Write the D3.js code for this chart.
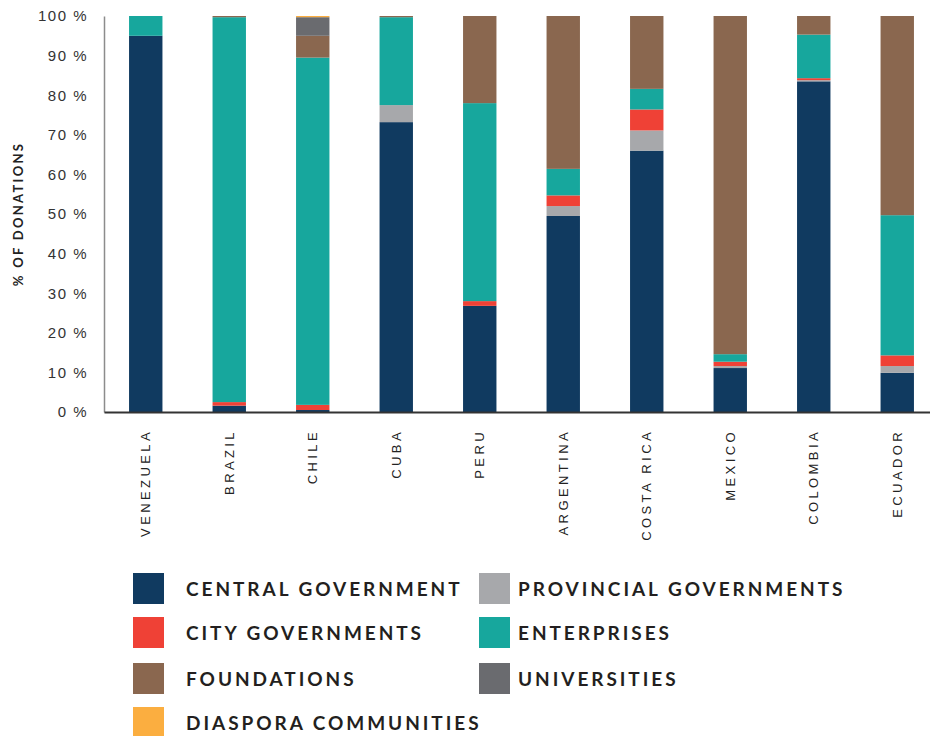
<!DOCTYPE html>
<html>
<head>
<meta charset="utf-8">
<script src="https://cdn.jsdelivr.net/npm/d3@7"></script>
<style>
  body { margin: 0; background: #fff; }
  svg { font-family: Lato, "Open Sans", sans-serif; }
</style>
</head>
<body>
<script>
// countries along the x axis
var countries = ['VENEZUELA', 'BRAZIL', 'CHILE', 'CUBA', 'PERU', 'ARGENTINA', 'COSTA RICA', 'MEXICO', 'COLOMBIA', 'ECUADOR'];

// donor types, bottom of the stack first
var donors = ['CENTRAL GOVERNMENT', 'PROVINCIAL GOVERNMENTS', 'CITY GOVERNMENTS', 'ENTERPRISES', 'FOUNDATIONS', 'UNIVERSITIES', 'DIASPORA COMMUNITIES'];
var donorColors = ['#103a60', '#a7a8ab', '#ef4136', '#17a79d', '#8a674f', '#6a6b6f', '#fbae40'];

// % of donations per donor type, one value per country
var central      = [95.0,  1.6,  0.5, 73.2, 26.8, 49.5, 66.0, 11.1, 83.5,  9.9];
var provincial   = [ 0.0,  0.0,  0.0,  4.3,  0.0,  2.5,  5.1,  0.5,  0.3,  1.7];
var city         = [ 0.0,  0.9,  1.3,  0.0,  1.2,  2.7,  5.3,  1.1,  0.5,  2.7];
var enterprises  = [ 5.0, 97.2, 87.7, 22.2, 50.0,  6.7,  5.2,  1.9, 11.0, 35.4];
var foundations  = [ 0.0,  0.3,  5.5,  0.3, 22.0, 38.6, 18.4, 85.4,  4.7, 50.3];
var universities = [ 0.0,  0.0,  4.7,  0.0,  0.0,  0.0,  0.0,  0.0,  0.0,  0.0];
var diaspora     = [ 0.0,  0.0,  0.3,  0.0,  0.0,  0.0,  0.0,  0.0,  0.0,  0.0];

// y tick values
var yTicks = [0, 10, 20, 30, 40, 50, 60, 70, 80, 90, 100];

var series = [central, provincial, city, enterprises, foundations, universities, diaspora];

// build rows for the stack layout
var rows = countries.map(function(c, i) {
    var row = { country: c };
    donors.forEach(function(d, j) { row[d] = series[j][i]; });
    return row;
});

var width = 930,
    height = 736;

var svg = d3.select('body')
    .append('svg')
    .attr('width', width)
    .attr('height', height);

// scales
var x = d3.scaleBand()
    .domain(countries)
    .range([104, 939])
    .paddingInner(0.6)
    .paddingOuter(0.3);

var y = d3.scaleLinear()
    .domain([0, 100])
    .range([412, 16]);

var color = d3.scaleOrdinal()
    .domain(donors)
    .range(donorColors);

var stacked = d3.stack().keys(donors)(rows);

// bars
svg.append('g')
    .selectAll('g')
    .data(stacked)
    .enter().append('g')
    .attr('fill', function(d) { return color(d.key); })
    .selectAll('rect')
    .data(function(d) { return d; })
    .enter().append('rect')
    .attr('x', function(d) { return x(d.data.country); })
    .attr('width', x.bandwidth())
    .attr('y', function(d) { return y(d[1]); })
    .attr('height', function(d) { return y(d[0]) - y(d[1]); });

// left axis
var yAxis = svg.append('g')
    .attr('transform', 'translate(104,0)')
    .call(d3.axisLeft(y).tickValues(yTicks).tickSize(0).tickPadding(16)
        .tickFormat(function(d) { return d + ' %'; }));

yAxis.select('.domain')
    .attr('stroke', '#8c8c8c')
    .attr('stroke-width', 1.5);

yAxis.selectAll('text')
    .attr('fill', '#333')
    .style('font-size', '15px')
    .style('letter-spacing', '1.5px');

// bottom axis
var xAxis = svg.append('g')
    .attr('transform', 'translate(0,412)')
    .call(d3.axisBottom(x).tickSize(0).tickSizeOuter(0));

xAxis.select('.domain')
    .attr('stroke', '#333')
    .attr('stroke-width', 2);

xAxis.selectAll('text')
    .attr('transform', 'rotate(-90)')
    .attr('text-anchor', 'end')
    .attr('x', -17)
    .attr('y', 0)
    .attr('dy', '0.35em')
    .attr('fill', '#222')
    .style('font-size', '13px')
    .style('letter-spacing', '3.4px');

// y axis title
svg.append('text')
    .attr('transform', 'translate(23,214) rotate(-90)')
    .attr('text-anchor', 'middle')
    .attr('fill', '#222')
    .style('font-size', '13px')
    .style('font-weight', 700)
    .style('letter-spacing', '2.3px')
    .text('% OF DONATIONS');

// legend in two columns
var legendPos = [
    [133, 573], [479, 573],
    [133, 617], [479, 617],
    [133, 663], [479, 663],
    [133, 707]
];
var legendOrder = ['CENTRAL GOVERNMENT', 'PROVINCIAL GOVERNMENTS', 'CITY GOVERNMENTS', 'ENTERPRISES', 'FOUNDATIONS', 'UNIVERSITIES', 'DIASPORA COMMUNITIES'];

var legend = svg.append('g')
    .selectAll('g')
    .data(legendOrder)
    .enter().append('g')
    .attr('transform', function(d, i) { return 'translate(' + legendPos[i][0] + ',' + legendPos[i][1] + ')'; });

legend.append('rect')
    .attr('width', 31)
    .attr('height', 31)
    .attr('fill', function(d) { return color(d); });

legend.append('text')
    .attr('x', function(d, i) { return i % 2 === 0 ? 53 : 39; })
    .attr('y', 16)
    .attr('dy', '0.35em')
    .attr('fill', '#231f20')
    .style('font-size', '19px')
    .style('font-weight', 700)
    .style('letter-spacing', '2.95px')
    .text(function(d) { return d; });
</script>
</body>
</html>
